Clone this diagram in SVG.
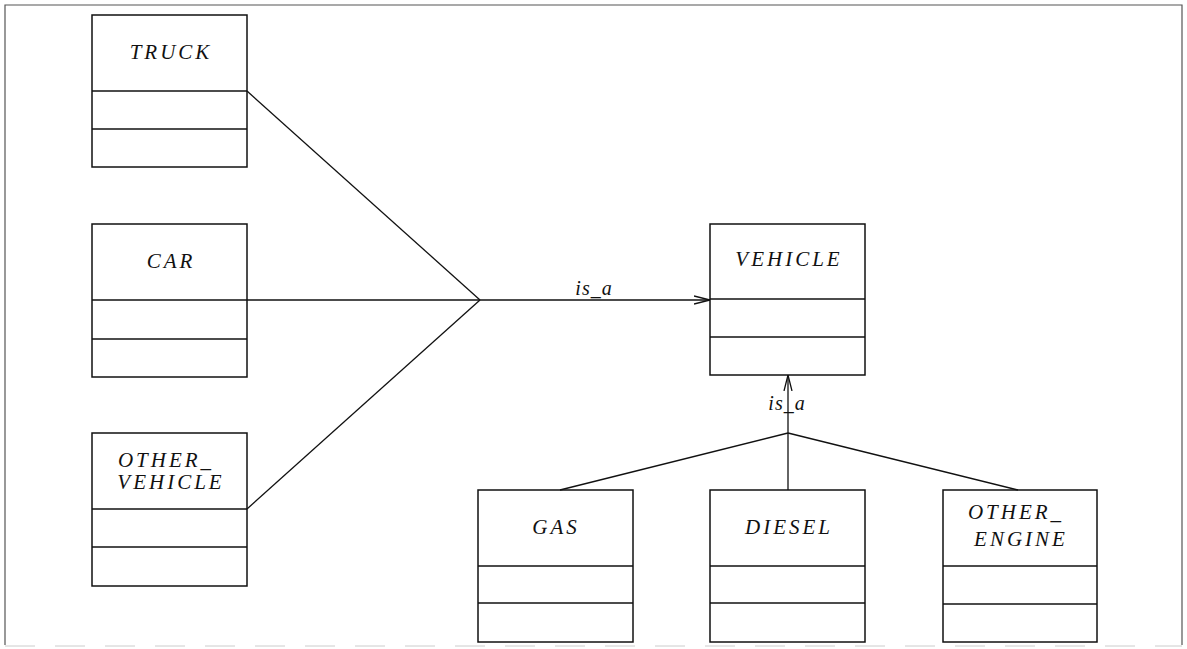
<svg xmlns="http://www.w3.org/2000/svg" width="1187" height="649" viewBox="0 0 1187 649">
<style>
.box{fill:none;stroke:#111;stroke-width:1.5}
.t{font-family:"Liberation Serif","DejaVu Serif",serif;font-style:italic;font-size:21px;letter-spacing:3px;fill:#111;text-anchor:middle}
.lbl{font-family:"Liberation Serif","DejaVu Serif",serif;font-style:italic;font-size:20px;letter-spacing:1px;fill:#111;text-anchor:middle}
.c{fill:none;stroke:#111;stroke-width:1.3}
</style>
<defs>
<marker id="open" viewBox="0 0 16 10" refX="16" refY="5" markerWidth="16" markerHeight="10" markerUnits="userSpaceOnUse" orient="auto">
<path d="M0,1 L16,5 L0,9" fill="none" stroke="#111" stroke-width="1.3"/>
</marker>
</defs>
<rect width="1187" height="649" fill="#fff"/>
<path d="M5,645 L5,5 L1182,5 L1182,645" fill="none" stroke="#555" stroke-width="1.2"/>
<line x1="5" y1="646" x2="1182" y2="646" stroke="#ccc" stroke-width="1" stroke-dasharray="30,20"/>
<g id="truck">
<rect class="box" x="92" y="15" width="155" height="152"/>
<line class="box" x1="92" y1="91" x2="247" y2="91"/>
<line class="box" x1="92" y1="129" x2="247" y2="129"/>
<text class="t" x="171" y="59">TRUCK</text>
</g>
<g id="car">
<rect class="box" x="92" y="224" width="155" height="153"/>
<line class="box" x1="92" y1="300" x2="247" y2="300"/>
<line class="box" x1="92" y1="339" x2="247" y2="339"/>
<text class="t" x="171" y="268">CAR</text>
</g>
<g id="other_vehicle">
<rect class="box" x="92" y="433" width="155" height="153"/>
<line class="box" x1="92" y1="509" x2="247" y2="509"/>
<line class="box" x1="92" y1="547" x2="247" y2="547"/>
<text class="t" x="166" y="467">OTHER_</text>
<text class="t" x="171" y="489">VEHICLE</text>
</g>
<g id="vehicle">
<rect class="box" x="710" y="224" width="155" height="151"/>
<line class="box" x1="710" y1="299" x2="865" y2="299"/>
<line class="box" x1="710" y1="337" x2="865" y2="337"/>
<text class="t" x="789" y="266">VEHICLE</text>
</g>
<g id="gas">
<rect class="box" x="478" y="490" width="155" height="152"/>
<line class="box" x1="478" y1="566" x2="633" y2="566"/>
<line class="box" x1="478" y1="603" x2="633" y2="603"/>
<text class="t" x="556" y="534">GAS</text>
</g>
<g id="diesel">
<rect class="box" x="710" y="490" width="155" height="152"/>
<line class="box" x1="710" y1="566" x2="865" y2="566"/>
<line class="box" x1="710" y1="603" x2="865" y2="603"/>
<text class="t" x="789" y="534">DIESEL</text>
</g>
<g id="other_engine">
<rect class="box" x="943" y="490" width="154" height="152"/>
<line class="box" x1="943" y1="566" x2="1097" y2="566"/>
<line class="box" x1="943" y1="604" x2="1097" y2="604"/>
<text class="t" x="1016" y="519">OTHER_</text>
<text class="t" x="1021" y="546">ENGINE</text>
</g>
<g id="connectors">
<line class="c" x1="247" y1="91" x2="480" y2="300"/>
<line class="c" x1="247" y1="300" x2="480" y2="300"/>
<line class="c" x1="247" y1="509" x2="480" y2="300"/>
<line class="c" x1="480" y1="300" x2="710" y2="300" marker-end="url(#open)"/>
<text class="lbl" x="594" y="295">is_a</text>
<line class="c" x1="560" y1="490" x2="788" y2="433"/>
<line class="c" x1="1018" y1="490" x2="788" y2="433"/>
<line class="c" x1="788" y1="490" x2="788" y2="375" marker-end="url(#open)"/>
<text class="lbl" x="787" y="410">is_a</text>
</g>
</svg>
